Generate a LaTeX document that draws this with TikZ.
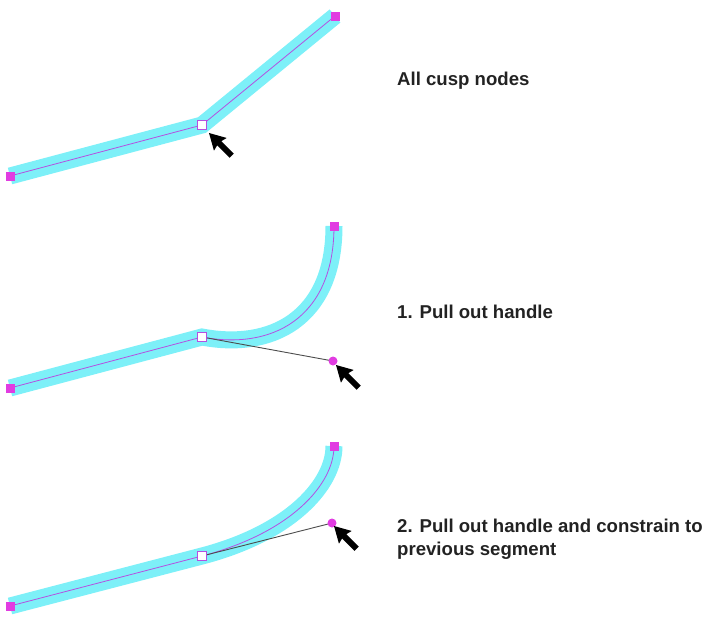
\documentclass[tikz,border=0pt]{standalone}
\usepackage{fontspec}
\setmainfont{Liberation Sans}
\definecolor{bandcyan}{RGB}{125,240,248}
\definecolor{corepurple}{RGB}{180,80,225}
\definecolor{endmag}{RGB}{225,60,225}
\definecolor{txt}{RGB}{34,34,34}
\begin{document}
\begin{tikzpicture}[x=1pt,y=-1pt,
  band/.style={line width=17pt, draw=bandcyan},
  core/.style={line width=0.8pt, draw=corepurple},
  endsq/.style={rectangle, fill=endmag, minimum size=9pt, inner sep=0pt},
  nodesq/.style={rectangle, fill=white, draw=corepurple, line width=0.9pt, minimum size=9pt, inner sep=0pt},
  handledot/.style={circle, fill=endmag, minimum size=9pt, inner sep=0pt},
  handleline/.style={draw=black!70, line width=0.9pt},
  lbl/.style={font=\bfseries\fontsize{18.6}{22}\selectfont, anchor=base west, inner sep=0pt, text=txt},
  cursor/.pic={\fill[black] (0,0) -- (16,-9) -- (14.5,-3) -- (32,-3) -- (32,3) -- (14.5,3) -- (16,9) -- cycle;}
]
\useasboundingbox (0,0) rectangle (720,625);
% coordinates
\coordinate (a1) at (10,176);
\coordinate (b1) at (202,125);
\coordinate (c1) at (335,16);
\coordinate (a2) at (10,388);
\coordinate (b2) at (202,337);
\coordinate (c2) at (334,226);
\coordinate (h2) at (333,361);
\coordinate (a3) at (10,606);
\coordinate (b3) at (202,556);
\coordinate (c3) at (334,446);
\coordinate (h3) at (332,523);
% bands
\draw[band] (a1) -- (b1) -- (c1);
\draw[band] (a2) -- (b2) .. controls (270,350) and (334,320) .. (c2);
\draw[band] (a3) -- (b3) .. controls (290,533) and (334,485) .. (c3);
% core lines
\draw[core] (a1) -- (b1) -- (c1);
\draw[core] (a2) -- (b2) .. controls (270,350) and (334,320) .. (c2);
\draw[core] (a3) -- (b3) .. controls (290,533) and (334,485) .. (c3);
% handle lines
\draw[handleline] (b2) -- (h2);
\draw[handleline] (b3) -- (h3);
% points
\node[endsq] (e1a) at (a1) {};
\node[endsq] (e1c) at (c1) {};
\node[nodesq] (n1) at (b1) {};
\node[endsq] (e2a) at (a2) {};
\node[endsq] (e2c) at (c2) {};
\node[nodesq] (n2) at (b2) {};
\node[handledot] (hd2) at (h2) {};
\node[endsq] (e3a) at (a3) {};
\node[endsq] (e3c) at (c3) {};
\node[nodesq] (n3) at (b3) {};
\node[handledot] (hd3) at (h3) {};
% cursors
\pic[rotate=-45] at (209,133) {cursor};
\pic[rotate=-45] at (336,365) {cursor};
\pic[rotate=-45] at (334,526) {cursor};
% labels
\node[lbl] (t1) at (397,85) {All cusp nodes};
\node[lbl] (t2) at (397,318) {1. Pull out handle};
\node[lbl] (t3) at (397,532) {2. Pull out handle and constrain to};
\node[lbl] (t4) at (397,555) {previous segment};
\end{tikzpicture}
\end{document}
